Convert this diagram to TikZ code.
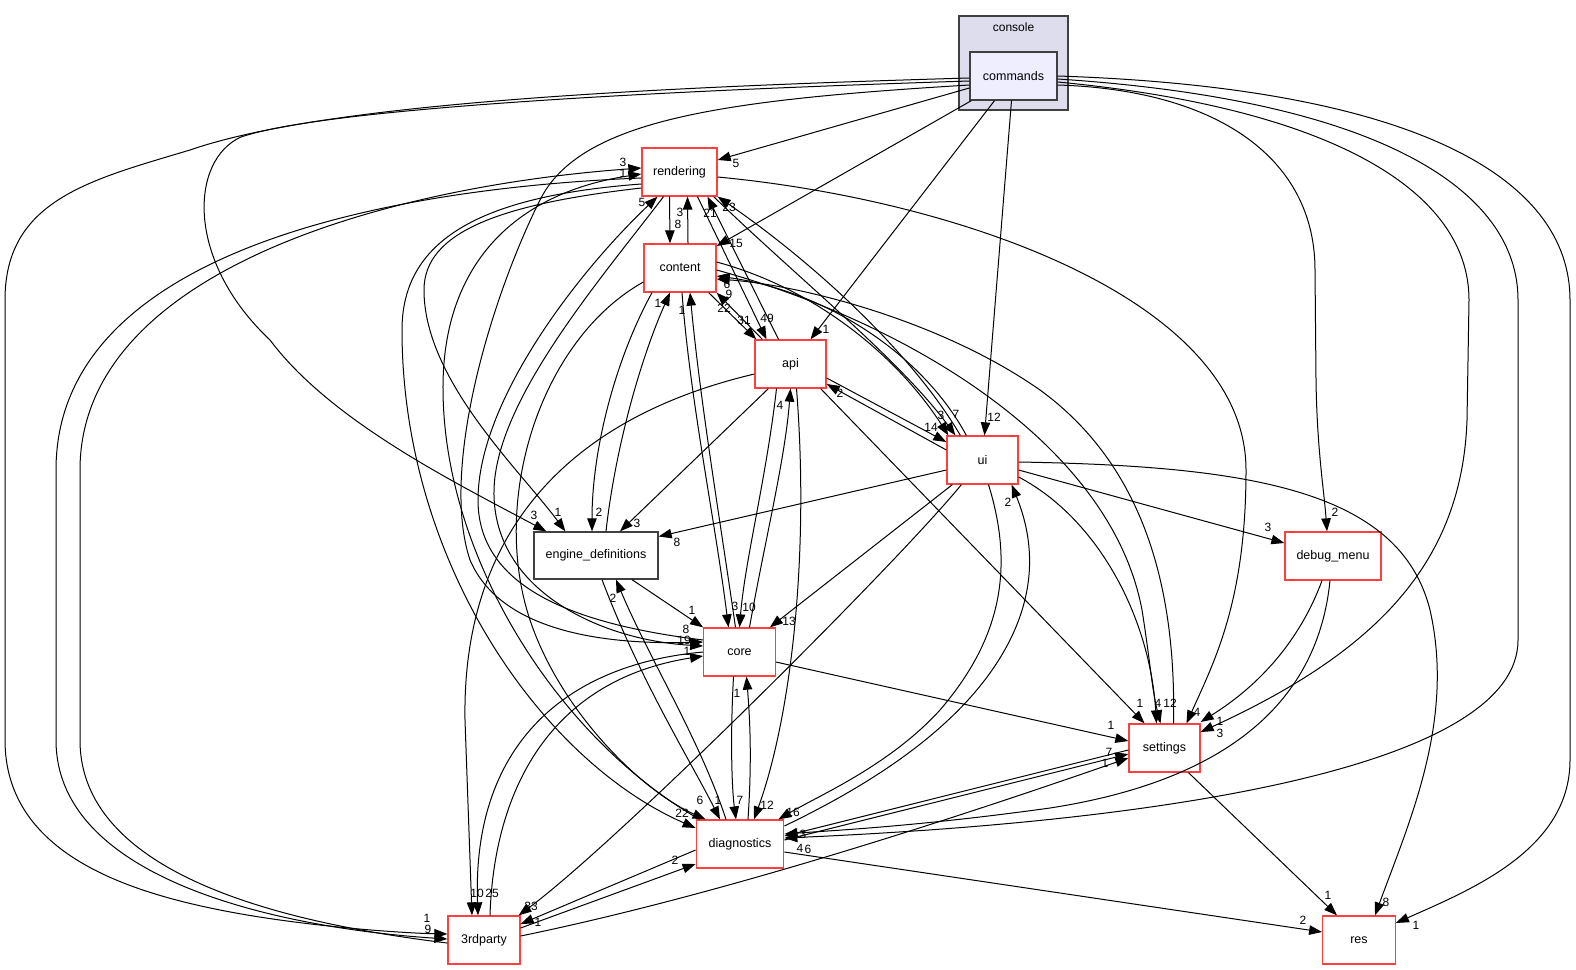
\documentclass[tikz,border=0pt]{standalone}
\usepackage{xcolor}
\usepackage{fontspec}
\usepackage{tikz}
\usetikzlibrary{arrows.meta}
\setmainfont{Liberation Sans}
\definecolor{doxred}{RGB}{255,64,64}
\definecolor{frame}{RGB}{64,64,64}
\definecolor{clusterfill}{RGB}{221,221,238}
\definecolor{cmdfill}{RGB}{238,238,255}

\begin{document}
\begin{tikzpicture}[x=1pt, y=-1pt,
  dirnode/.style={draw=doxred, line width=1.3pt, fill=white, minimum height=48pt, inner sep=0pt, font=\fontsize{12.5}{14}\selectfont},
  depline/.style={line width=1pt, -{Triangle[length=13pt,width=9.5pt]}},
  numlbl/.style={inner sep=0pt, font=\fontsize{12}{14}\selectfont}]
\useasboundingbox (0,0) rectangle (1576,969);

\node[draw=frame, fill=clusterfill, line width=1.3pt, minimum width=109pt, minimum height=94pt, inner sep=0pt] (console) at (1013.5,63) {};
\node[font=\fontsize{12}{14}\selectfont, inner sep=0pt] (consoletitle) at (1013.5,27) {console};
\node[dirnode, draw=frame, fill=cmdfill, minimum width=87pt] (cmds) at (1013.5,76) {commands};
\node[dirnode, minimum width=75pt] (rendering) at (679.5,172) {rendering};
\node[dirnode, minimum width=72pt] (content) at (680,268) {content};
\node[dirnode, minimum width=71pt] (api) at (790.5,364) {api};
\node[dirnode, minimum width=71pt] (ui) at (982.5,460) {ui};
\node[dirnode, draw=frame, minimum width=124pt, minimum height=47pt] (engdefs) at (596,555.5) {engine\_definitions};
\node[dirnode, minimum width=96pt] (debugmenu) at (1333,556) {debug\_menu};
\node[dirnode, minimum width=71.5pt] (core) at (739.5,652) {core};
\node[dirnode, minimum width=71pt] (settings) at (1164.5,748) {settings};
\node[dirnode, minimum width=87.5pt] (diag) at (740,844) {diagnostics};
\node[dirnode, minimum width=72pt] (thirdparty) at (484,940) {3rdparty};
\node[dirnode, minimum width=72.5pt] (res) at (1359,940) {res};

\draw[depline] ([yshift=-12pt]cmds.west) -- ([yshift=12pt]rendering.east);
\draw[depline] ([xshift=2pt]cmds.south west) -- ([yshift=22pt]content.east);
\draw[depline] ([xshift=-19pt]cmds.south) -- ([xshift=20pt]api.north);
\draw[depline] ([xshift=-2pt]cmds.south) -- ([xshift=2pt]ui.north);
\draw[depline] ([yshift=-9pt]cmds.east) .. controls (1220,90) and (1315,160) .. (1315,270) -- (1316,380) .. controls (1317,450) and (1324,490) .. ([xshift=-6pt]debugmenu.north);
\draw[depline] ([yshift=-6pt]cmds.east) .. controls (1330,108) and (1469,190) .. (1469,300) -- (1467,420) .. controls (1462,560) and (1380,650) .. ([yshift=16pt]settings.east);
\draw[depline] ([yshift=-3pt]cmds.east) .. controls (1380,100) and (1518,190) .. (1518,300) -- (1518,640) .. controls (1518,760) and (1200,820) .. ([yshift=6pt]diag.east);
\draw[depline] (cmds.east) .. controls (1420,88) and (1570,180) .. (1570,300) -- (1570,760) .. controls (1570,850) and (1470,890) .. ([yshift=17pt]res.east);
\draw[depline] ([yshift=-2pt]cmds.west) .. controls (620,88) and (320,105) .. (190,150) .. controls (90,180) and (5,200) .. (5,300) -- (5,740) .. controls (5,850) and (120,890) .. (220,910) .. controls (300,926) and (400,933) .. ([yshift=6pt]thirdparty.west);
\draw[depline] ([yshift=-5pt]cmds.west) .. controls (620,92) and (320,110) .. (241,137) .. controls (190,160) and (185,260) .. (270,340) .. controls (330,420) and (450,480) .. ([xshift=13pt]engdefs.north west);
\draw[depline] ([yshift=-9pt]cmds.west) .. controls (720,100) and (580,120) .. (540,200) .. controls (490,300) and (440,470) .. (470,560) .. controls (500,630) and (600,645) .. ([yshift=10pt]core.west);

\draw[depline] ([xshift=-10pt]rendering.south) -- ([xshift=-10pt]content.north);
\draw[depline] ([xshift=8pt]content.north) -- ([xshift=8pt]rendering.south);
\draw[depline] ([yshift=-5pt]rendering.east) .. controls (960,200) and (1246,300) .. (1246,470) .. controls (1246,600) and (1215,660) .. ([xshift=22pt]settings.north);
\draw[depline] ([xshift=-4pt]rendering.south east) .. controls (800,280) and (900,360) .. ([xshift=9pt]ui.north west);
\draw[depline] ([xshift=14pt]ui.north west) .. controls (910,350) and (810,260) .. (rendering.south east);
\draw[depline] ([xshift=18pt]rendering.south) -- ([xshift=-24pt]api.north);
\draw[depline] ([xshift=-12pt]api.north) -- ([xshift=28pt]rendering.south);
\draw[depline] ([yshift=-6pt]rendering.west) .. controls (390,188) and (56,250) .. (56,470) -- (56,740) .. controls (56,880) and (280,928) .. ([yshift=1pt]thirdparty.west);
\draw[depline] ([yshift=-3pt]thirdparty.west) .. controls (300,925) and (80,880) .. (80,740) -- (80,470) .. controls (80,270) and (390,186) .. ([yshift=4pt]rendering.west);
\draw[depline] ([yshift=-12pt]rendering.west) .. controls (480,196) and (402,240) .. (402,330) .. controls (402,560) and (540,760) .. ([yshift=16pt]diag.west);
\draw[depline] ([yshift=-16pt]rendering.west) .. controls (500,204) and (424,232) .. (424,290) .. controls (424,380) and (520,470) .. ([xshift=32pt]engdefs.north west);
\draw[depline] ([xshift=4pt]diag.north west) .. controls (560,740) and (444,560) .. (443,390) .. controls (442,260) and (520,192) .. ([yshift=-2pt]rendering.west);
\draw[depline] ([yshift=12pt]core.west) .. controls (580,625) and (478,590) .. (478,500) .. controls (478,400) and (580,270) .. ([xshift=-22pt]rendering.south);
\draw[depline] ([xshift=-16pt]rendering.south) .. controls (600,280) and (496,400) .. (494,490) .. controls (492,590) and (600,640) .. ([yshift=6pt]core.west);

\draw[depline] ([xshift=6pt]thirdparty.north) .. controls (494,790) and (550,680) .. ([yshift=-4pt]core.west);
\draw[depline] (core.west) .. controls (560,665) and (472,750) .. ([xshift=-6pt]thirdparty.north);
\draw[depline] ([yshift=-10pt]api.west) .. controls (560,420) and (462,540) .. (465,720) -- ([xshift=-12pt]thirdparty.north);
\draw[depline] ([xshift=15pt]ui.south west) .. controls (900,560) and (620,840) .. ([xshift=-2pt]thirdparty.north east);
\draw[depline] ([yshift=-6pt]diag.west) -- ([yshift=16pt]thirdparty.east);
\draw[depline] ([yshift=12pt]thirdparty.east) -- ([yshift=-20pt]diag.west);
\draw[depline] ([yshift=4pt]thirdparty.east) .. controls (720,895) and (950,820) .. ([yshift=-10pt]settings.west);
\draw[depline] ([yshift=4pt]diag.east) -- ([yshift=-6pt]settings.west);
\draw[depline] ([yshift=-2pt]settings.west) -- ([yshift=8pt]diag.east);
\draw[depline] ([yshift=-10pt]core.east) -- ([yshift=7pt]settings.west);
\draw[depline] ([xshift=-6pt]api.south east) -- ([xshift=-20pt]settings.north);
\draw[depline] ([xshift=24pt]settings.south) -- ([xshift=-22pt]res.north);
\draw[depline] ([yshift=-2pt]ui.east) .. controls (1250,466) and (1400,490) .. (1430,610) .. controls (1455,720) and (1410,820) .. ([xshift=16pt]res.north);
\draw[depline] ([yshift=-8pt]diag.east) -- ([yshift=8pt]res.west);
\draw[depline] ([yshift=-10pt]ui.east) -- ([yshift=13pt]debugmenu.west);
\draw[depline] ([yshift=-10pt]ui.west) -- ([yshift=19pt]engdefs.east);
\draw[depline] ([xshift=6pt]ui.south west) -- ([xshift=-6pt]core.north east);
\draw[depline] ([yshift=-17pt]ui.east) .. controls (1100,520) and (1150,620) .. ([xshift=-8pt]settings.north);
\draw[depline] ([xshift=6pt]ui.south) .. controls (1015,570) and (1000,640) .. (940,710) .. controls (890,765) and (820,795) .. ([xshift=-6pt]diag.north east);
\draw[depline] ([yshift=18pt]diag.east) .. controls (880,780) and (970,720) .. (1010,640) .. controls (1040,580) and (1030,530) .. ([xshift=-7pt]ui.south east);
\draw[depline] ([xshift=-11pt]debugmenu.south) .. controls (1300,640) and (1260,685) .. ([yshift=26pt]settings.east);
\draw[depline] ([xshift=-3pt]debugmenu.south) .. controls (1318,700) and (1230,780) .. (1050,808) .. controls (920,826) and (840,830) .. ([yshift=10pt]diag.east);
\draw[depline] ([yshift=-2pt]content.east) .. controls (900,320) and (1110,440) .. (1142,610) .. controls (1150,660) and (1152,690) .. ([xshift=-4pt]settings.north);
\draw[depline] ([xshift=9pt]settings.north) .. controls (1176,600) and (1150,470) .. (1040,390) .. controls (940,320) and (800,285) .. ([yshift=-11pt]content.east);
\draw[depline] ([yshift=6pt]content.east) .. controls (820,290) and (900,360) .. ([xshift=2pt]ui.north west);
\draw[depline] ([xshift=20pt]ui.north west) .. controls (920,350) and (820,290) .. ([yshift=-8pt]content.east);
\draw[depline] ([yshift=-14pt]api.east) -- ([yshift=18pt]ui.west);
\draw[depline] ([yshift=10pt]ui.west) -- ([yshift=-20pt]api.east);

\draw[depline] ([xshift=-8pt]content.south east) -- ([xshift=2pt]api.north west);
\draw[depline] ([xshift=8pt]api.north west) -- (content.south east);
\draw[depline] ([xshift=10pt]engdefs.north) .. controls (615,450) and (640,360) .. ([xshift=-10pt]content.south);
\draw[depline] ([xshift=-28pt]content.south) .. controls (615,360) and (592,450) .. ([xshift=-4pt]engdefs.north);
\draw[depline] ([xshift=14pt]api.south west) -- ([xshift=24pt]engdefs.north);
\draw[depline] ([xshift=2pt]content.south) .. controls (690,400) and (715,520) .. ([xshift=-11pt]core.north);
\draw[depline] ([xshift=-4pt]core.north) .. controls (720,520) and (700,400) .. ([xshift=10pt]content.south);
\draw[depline] ([xshift=-14pt]api.south) .. controls (766,480) and (745,560) .. (core.north);
\draw[depline] ([xshift=10pt]core.north) .. controls (765,540) and (785,460) .. (api.south);
\draw[depline] ([xshift=6pt]api.south) .. controls (810,560) and (790,720) .. ([xshift=14pt]diag.north);
\draw[depline] ([xshift=-6pt]core.south) .. controls (730,740) and (732,790) .. ([xshift=-4pt]diag.north);
\draw[depline] ([xshift=8pt]diag.north) .. controls (752,760) and (750,720) .. ([xshift=7pt]core.south);
\draw[depline] ([xshift=36pt]engdefs.south) -- (core.north west);
\draw[depline] ([xshift=6pt]engdefs.south) .. controls (640,680) and (690,760) .. ([xshift=-20pt]diag.north);
\draw[depline] ([xshift=-14pt]diag.north) .. controls (700,740) and (650,660) .. ([xshift=20pt]engdefs.south);
\draw[depline] ([yshift=-14pt]content.west) .. controls (540,340) and (490,500) .. (530,620) .. controls (560,710) and (640,790) .. ([xshift=10pt]diag.north west);

\node[numlbl] (n1) at (736,163) {5};
\node[numlbl] (n2) at (736,243) {15};
\node[numlbl] (n3) at (826,329) {1};
\node[numlbl] (n4) at (994,417) {12};
\node[numlbl] (n5) at (1335,512) {2};
\node[numlbl] (n6) at (1220,733) {3};
\node[numlbl] (n7) at (808,849) {6};
\node[numlbl] (n8) at (1416,925) {1};
\node[numlbl] (n9) at (427,918) {1};
\node[numlbl] (n10) at (534,515) {3};
\node[numlbl] (n11) at (686,629) {8};
\node[numlbl] (n12) at (678,224) {8};
\node[numlbl] (n13) at (680,212) {3};
\node[numlbl] (n14) at (1197,712) {4};
\node[numlbl] (n15) at (956,414) {7};
\node[numlbl] (n16) at (729,207) {23};
\node[numlbl] (n17) at (767,318) {49};
\node[numlbl] (n18) at (710,213) {21};
\node[numlbl] (n20) at (428,929) {9};
\node[numlbl] (n21) at (623,162) {3};
\node[numlbl] (n22) at (682,813) {22};
\node[numlbl] (n23) at (558,512) {1};
\node[numlbl] (n24) at (623,173) {1};
\node[numlbl] (n25) at (642,202) {5};
\node[numlbl] (n26) at (684,640) {19};
\node[numlbl] (n27) at (687,651) {1};
\node[numlbl] (n28) at (492,893) {25};
\node[numlbl] (n29) at (477,893) {10};
\node[numlbl] (n30) at (531,906) {33};
\node[numlbl] (n31) at (538,922) {1};
\node[numlbl] (n32) at (675,860) {2};
\node[numlbl] (n33) at (1105,763) {1};
\node[numlbl] (n34) at (1109,752) {7};
\node[numlbl] (n35) at (803,834) {3};
\node[numlbl] (n36) at (1111,725) {1};
\node[numlbl] (n37) at (1140,703) {1};
\node[numlbl] (n38) at (1328,895) {1};
\node[numlbl] (n39) at (1386,902) {8};
\node[numlbl] (n40) at (1303,920) {2};
\node[numlbl] (n41) at (1268,527) {3};
\node[numlbl] (n42) at (677,542) {8};
\node[numlbl] (n43) at (789,621) {13};
\node[numlbl] (n44) at (1170,703) {12};
\node[numlbl] (n45) at (793,812) {16};
\node[numlbl] (n46) at (1008,502) {2};
\node[numlbl] (n47) at (1220,721) {1};
\node[numlbl] (n48) at (800,848) {4};
\node[numlbl] (n49) at (1158,703) {4};
\node[numlbl] (n50) at (729,294) {9};
\node[numlbl] (n51) at (941,415) {3};
\node[numlbl] (n52) at (727,284) {6};
\node[numlbl] (n53) at (931,427) {14};
\node[numlbl] (n54) at (840,393) {2};
\node[numlbl] (n55) at (744,320) {31};
\node[numlbl] (n56) at (724,308) {22};
\node[numlbl] (n57) at (658,303) {1};
\node[numlbl] (n58) at (599,512) {2};
\node[numlbl] (n59) at (637,523) {3};
\node[numlbl] (n60) at (735,606) {3};
\node[numlbl] (n61) at (682,310) {1};
\node[numlbl] (n62) at (749,607) {10};
\node[numlbl] (n63) at (780,405) {4};
\node[numlbl] (n64) at (767,805) {12};
\node[numlbl] (n65) at (740,800) {7};
\node[numlbl] (n66) at (737,693) {1};
\node[numlbl] (n67) at (692,610) {1};
\node[numlbl] (n68) at (718,800) {1};
\node[numlbl] (n69) at (613,598) {2};
\node[numlbl] (n70) at (700,800) {6};
\end{tikzpicture}
\end{document}
